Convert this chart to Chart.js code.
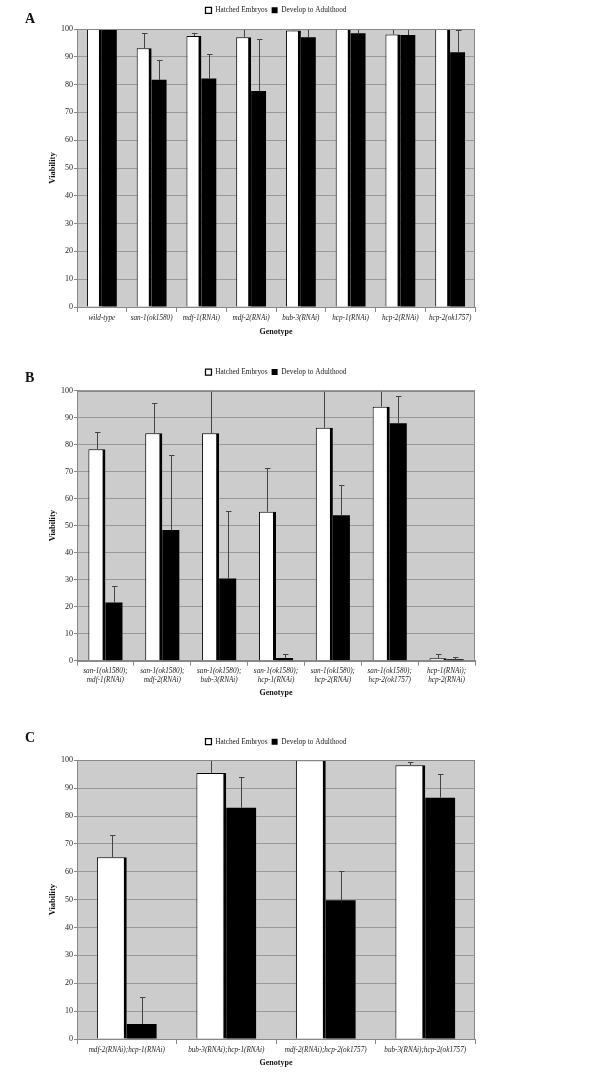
<!DOCTYPE html>
<html>
<head>
<meta charset="utf-8">
<script src="https://cdn.jsdelivr.net/npm/chart.js@4.4.1/dist/chart.umd.min.js"></script>
<style>
  body { margin: 0; background: #fff; width: 600px; height: 1080px; position: relative; overflow: hidden; font-family: "Liberation Serif", serif; }
  .panel { position: absolute; left: 0; width: 600px; }
  .tag { position: absolute; left: 25px; font-weight: bold; font-size: 14px; line-height: 14px; color: #111; }
</style>
</head>
<body>
<div class="panel" style="top:0;height:345px"><canvas id="chartA" width="600" height="345"></canvas></div>
<div class="panel" style="top:345px;height:355px"><canvas id="chartB" width="600" height="355"></canvas></div>
<div class="panel" style="top:700px;height:380px"><canvas id="chartC" width="600" height="380"></canvas></div>
<div class="tag" style="top:12px">A</div>
<div class="tag" style="top:371px">B</div>
<div class="tag" style="top:731px">C</div>

<script>
"use strict";

// --- data ---
const seriesNames = ["Hatched Embryos", "Develop to Adulthood"];
const yTicks = [0, 10, 20, 30, 40, 50, 60, 70, 80, 90, 100];

// panel A
const labelsA = ["wild-type", "san-1(ok1580)", "mdf-1(RNAi)", "mdf-2(RNAi)", "bub-3(RNAi)", "hcp-1(RNAi)", "hcp-2(RNAi)", "hcp-2(ok1757)"];
const hatchedA = [100, 93.1, 97.5, 97.0, 99.5, 100, 98.0, 100];
const hatchedErrA = [0, 5.4, 1.0, 3.5, 0.6, 0, 3.0, 0];
const developA = [99.8, 81.7, 82.2, 77.7, 97.0, 98.5, 97.8, 91.6];
const developErrA = [0, 7.3, 8.8, 18.7, 4.0, 2.5, 3.5, 7.9];

// panel B
const labelsB = [
  ["san-1(ok1580);", "mdf-1(RNAi)"],
  ["san-1(ok1580);", "mdf-2(RNAi)"],
  ["san-1(ok1580);", "bub-3(RNAi)"],
  ["san-1(ok1580);", "hcp-1(RNAi)"],
  ["san-1(ok1580);", "hcp-2(RNAi)"],
  ["san-1(ok1580);", "hcp-2(ok1757)"],
  ["hcp-1(RNAi);", "hcp-2(RNAi)"],
];
const hatchedB = [78.3, 84.2, 84.2, 55.2, 86.3, 94.1, 0.9];
const hatchedErrB = [6.3, 11.1, 17.0, 16.1, 15.0, 8.0, 1.4];
const developB = [21.6, 48.4, 30.4, 1.0, 53.9, 87.9, 0.5];
const developErrB = [6.2, 27.7, 24.9, 1.5, 11.1, 10.1, 0.8];

// panel C
const labelsC = ["mdf-2(RNAi);hcp-1(RNAi)", "bub-3(RNAi);hcp-1(RNAi)", "mdf-2(RNAi);hcp-2(ok1757)", "bub-3(RNAi);hcp-2(ok1757)"];
const hatchedC = [65.2, 95.4, 100, 98.2];
const hatchedErrC = [7.9, 6.0, 0, 1.1];
const developC = [5.4, 83.0, 49.8, 86.6];
const developErrC = [9.8, 10.9, 10.4, 8.4];

const SERIF = "'Liberation Serif', 'Times New Roman', serif";

// grey plot background + frame
const plotFrame = {
  id: "plotFrame",
  beforeDraw(chart) {
    const { ctx, chartArea: a } = chart;
    ctx.save();
    ctx.fillStyle = "#cccccc";
    ctx.fillRect(a.left, a.top, a.right - a.left, a.bottom - a.top);
    ctx.restore();
  },
  afterDraw(chart) {
    const { ctx, chartArea: a } = chart;
    ctx.save();
    ctx.strokeStyle = "#888";
    ctx.lineWidth = 1;
    ctx.strokeRect(Math.round(a.left) + 0.5, Math.round(a.top) + 0.5, Math.round(a.right - a.left) - 1, Math.round(a.bottom - a.top));
    ctx.restore();
  },
};

// upper error bars, positioned through the y scale
const errorBars = {
  id: "errorBars",
  afterDatasetsDraw(chart) {
    const { ctx, chartArea: a } = chart;
    const y = chart.scales.y;
    ctx.save();
    ctx.beginPath();
    ctx.rect(a.left, a.top, a.right - a.left, a.bottom - a.top);
    ctx.clip();
    ctx.strokeStyle = "#444";
    ctx.lineWidth = 1;
    chart.data.datasets.forEach((ds, i) => {
      chart.getDatasetMeta(i).data.forEach((bar, j) => {
        const err = ds.errors[j];
        if (!err) return;
        const x = Math.round(bar.x) + 0.5;
        const yTop = Math.round(y.getPixelForValue(ds.data[j] + err)) + 0.5;
        ctx.beginPath();
        ctx.moveTo(x, bar.y);
        ctx.lineTo(x, yTop);
        ctx.moveTo(x - 2.5, yTop);
        ctx.lineTo(x + 3, yTop);
        ctx.stroke();
      });
    });
    ctx.restore();
  },
};

function makeChart(id, labels, hatched, hatchedErr, develop, developErr, geo) {
  const ctx = document.getElementById(id);
  return new Chart(ctx, {
    type: "bar",
    data: {
      labels,
      datasets: [
        {
          label: seriesNames[0],
          data: hatched,
          errors: hatchedErr,
          backgroundColor: "#ffffff",
          borderColor: "#000000",
          borderWidth: { top: 1, left: 1, right: 3, bottom: 0 },
          borderSkipped: false,
          xAxisID: "x",
          yAxisID: "y",
        },
        {
          label: seriesNames[1],
          data: develop,
          errors: developErr,
          backgroundColor: "#000000",
          borderColor: "#000000",
          borderWidth: 0,
          xAxisID: "x",
          yAxisID: "y",
        },
      ],
    },
    options: {
      responsive: false,
      animation: false,
      layout: { padding: { top: geo.padTop, left: 0, right: 125, bottom: 0 } },
      categoryPercentage: 0.6,
      barPercentage: 1.0,
      plugins: {
        legend: {
          position: "top",
          fullSize: false,
          labels: {
            boxWidth: 6,
            boxHeight: 6,
            padding: 4,
            color: "#222",
            font: { family: SERIF, size: 7.3 },
          },
        },
        tooltip: { enabled: false },
      },
      scales: {
        x: {
          type: "category",
          position: "bottom",
          grid: { display: true, drawOnChartArea: false, offset: true, tickLength: 5, color: "#888" },
          border: { color: "#888" },
          ticks: { color: "#222", padding: 1.5, maxRotation: 0, autoSkip: false, font: { family: SERIF, size: 7.2, style: "italic" } },
          title: { display: true, text: "Genotype", color: "#111", padding: { top: 0, bottom: geo.titlePad }, font: { family: SERIF, size: 8, weight: "bold" } },
          afterFit(scale) { scale.height = geo.xHeight; },
        },
        pad: {
          type: "category",
          axis: "x",
          position: "top",
          labels: [""],
          grid: { display: false },
          border: { display: false },
          ticks: { display: false },
          afterFit(scale) { scale.height = 5; },
        },
        y: {
          min: 0,
          max: 100,
          afterBuildTicks(scale) { scale.ticks = yTicks.map((v) => ({ value: v })); },
          grid: { color: "#999", tickLength: 3, tickColor: "#888" },
          border: { color: "#888" },
          ticks: { color: "#222", padding: 1, font: { family: SERIF, size: 8 } },
          title: { display: true, text: "Viability", color: "#111", padding: { top: 47.5, bottom: 0 }, font: { family: SERIF, size: 8.5, weight: "bold" } },
          afterFit(scale) { scale.width = 77; },
        },
      },
    },
    plugins: [plotFrame, errorBars],
  });
}

makeChart("chartA", labelsA, hatchedA, hatchedErrA, developA, developErrA, { padTop: 2.7, xHeight: 38, titlePad: 8.2 });
makeChart("chartB", labelsB, hatchedB, hatchedErrB, developB, developErrB, { padTop: 19.4, xHeight: 39.3, titlePad: 2.2 });
makeChart("chartC", labelsC, hatchedC, hatchedErrC, developC, developErrC, { padTop: 34, xHeight: 41, titlePad: 12.2 });
</script>
</body>
</html>
